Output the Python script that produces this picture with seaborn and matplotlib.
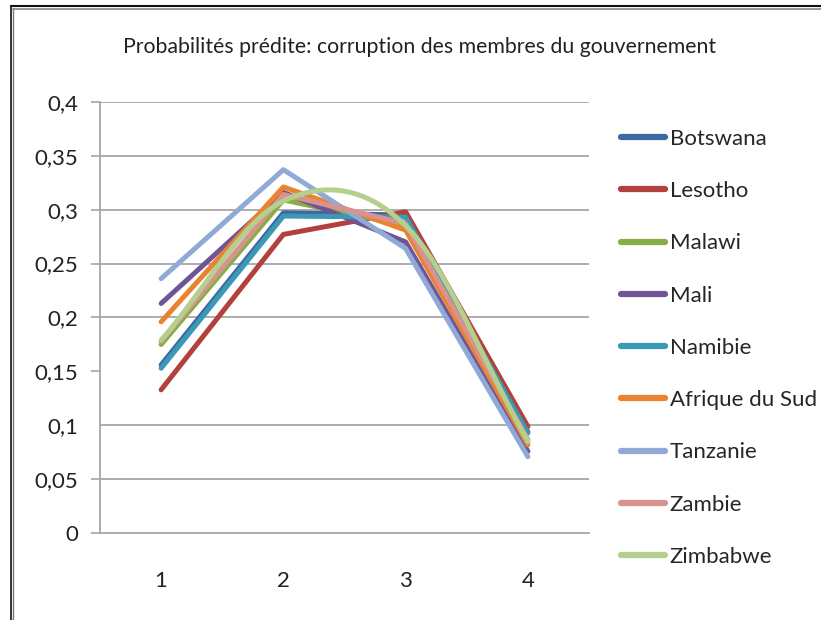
import numpy as np
import pandas as pd
import matplotlib
matplotlib.use("Agg")
import matplotlib.pyplot as plt
from matplotlib.lines import Line2D
from matplotlib.ticker import FixedLocator, FuncFormatter
import seaborn as sns

# predicted probability per category (1..4)
categories = [1, 2, 3, 4]
botswana = [0.156, 0.297, 0.295, 0.094]
lesotho = [0.133, 0.277, 0.298, 0.099]
malawi = [0.175, 0.309, 0.285, 0.085]
mali = [0.213, 0.316, 0.270, 0.076]
namibie = [0.153, 0.294, 0.293, 0.093]
afrique_du_sud = [0.196, 0.321, 0.281, 0.082]
tanzanie = [0.236, 0.337, 0.264, 0.071]
zambie = [0.178, 0.314, 0.287, 0.087]
zimbabwe = [0.179, 0.308, 0.285, 0.085]

countries = ["Botswana", "Lesotho", "Malawi", "Mali", "Namibie",
             "Afrique du Sud", "Tanzanie", "Zambie", "Zimbabwe"]
series = [botswana, lesotho, malawi, mali, namibie,
          afrique_du_sud, tanzanie, zambie, zimbabwe]
colors = ["#3D68A5", "#B2403D", "#88AD45", "#6F5595", "#3A9AB5",
          "#EB822F", "#8FAAD7", "#D89391", "#B4CF8E"]
palette = dict(zip(countries, colors))

y_ticks = [0, 0.05, 0.1, 0.15, 0.2, 0.25, 0.3, 0.35, 0.4]

rows = []
for name, vals in zip(countries, series):
    for i, v in enumerate(vals):
        rows.append({"pos": i, "country": name, "prob": v})
df = pd.DataFrame(rows)


def catmull_rom(xs, ys, n=40):
    # Excel-style smoothed line drawn through the data points
    xs = np.asarray(xs, float)
    ys = np.asarray(ys, float)
    px = np.concatenate([[2 * xs[0] - xs[1]], xs, [2 * xs[-1] - xs[-2]]])
    py = np.concatenate([[2 * ys[0] - ys[1]], ys, [2 * ys[-1] - ys[-2]]])
    ox, oy = [], []
    for i in range(1, len(px) - 2):
        t = np.linspace(0, 1, n)
        m0 = (py[i + 1] - py[i - 1]) / 2
        m1 = (py[i + 2] - py[i]) / 2
        h00 = 2 * t**3 - 3 * t**2 + 1
        h10 = t**3 - 2 * t**2 + t
        h01 = -2 * t**3 + 3 * t**2
        h11 = t**3 - t**2
        ox.extend(px[i] + t * (px[i + 1] - px[i]))
        oy.extend(h00 * py[i] + h10 * m0 + h01 * py[i + 1] + h11 * m1)
    return np.array(ox), np.array(oy)


sns.set_style("white")
plt.rcParams["font.family"] = ["Lato", "DejaVu Sans"]

fig = plt.figure(figsize=(8.21, 6.20), dpi=100)
ax = fig.add_axes([100 / 821, 1 - 533.3 / 620, 489 / 821, 431.6 / 620])

straight = df[df["country"] != "Zimbabwe"]
sns.lineplot(data=straight, x="pos", y="prob", hue="country",
             hue_order=countries[:-1], palette=palette, lw=3.6,
             legend=False, ax=ax, solid_capstyle="round")
sx, sy = catmull_rom(range(len(zimbabwe)), zimbabwe)
ax.plot(sx, sy, color=palette["Zimbabwe"], lw=3.6, solid_capstyle="round")

ax.set_xlim(-0.5, 3.5)
ax.set_ylim(0, 0.4)
ax.set_xlabel("")
ax.set_ylabel("")

grid_col = "#A6A6A6"
for t in y_ticks:
    if t in (0, 0.15):
        continue
    ax.axhline(t, color=grid_col, lw=1.3, zorder=0)

ax.yaxis.set_major_locator(FixedLocator(y_ticks))
ax.yaxis.set_major_formatter(FuncFormatter(lambda v, p: f"{v:g}".replace(".", ",")))
ax.xaxis.set_major_locator(FixedLocator([0, 1, 2, 3]))
ax.set_xticklabels([str(c) for c in categories])
ax.xaxis.set_minor_locator(FixedLocator([-0.5, 0.5, 1.5, 2.5, 3.5]))
ax.tick_params(axis="x", which="major", length=0, pad=27, labelsize=16, colors="#222222")
ax.tick_params(axis="x", which="minor", length=6.5, width=1.2, color=grid_col, direction="out")
ax.tick_params(axis="y", length=6.5, width=1.2, color=grid_col, pad=9,
               labelsize=16, labelcolor="#222222", left=True, direction="out")
# hide the missing 0,15 tick like the original
for tick in ax.yaxis.get_major_ticks():
    if abs(tick.get_loc() - 0.15) < 1e-9:
        tick.tick1line.set_visible(False)

for s in ["top", "right"]:
    ax.spines[s].set_visible(False)
for s in ["left", "bottom"]:
    ax.spines[s].set_color(grid_col)
    ax.spines[s].set_linewidth(1.3)

fig.text(0.511, 1 - 47 / 620, "Probabilités prédite: corruption des membres du gouvernement",
         ha="center", va="center", fontsize=15.3, color="#222222")

handles = [Line2D([0], [0], color=c, lw=4.5, solid_capstyle="round") for c in colors]
fig.legend(handles, countries, loc="upper left", bbox_to_anchor=(621 / 821, 1 - 129 / 620),
           frameon=False, fontsize=16, handlelength=2.0, handletextpad=0.2,
           labelspacing=1.45, borderaxespad=0, borderpad=0)

# frame around the chart area
fig.add_artist(Line2D([11 / 821, 11 / 821], [0, 1 - 6 / 620], transform=fig.transFigure,
                      color="#111111", lw=1.2))
fig.add_artist(Line2D([13 / 821, 13 / 821], [0, 1 - 8 / 620], transform=fig.transFigure,
                      color="#777777", lw=1.0))
fig.add_artist(Line2D([11 / 821, 1], [1 - 6 / 620, 1 - 6 / 620], transform=fig.transFigure,
                      color="#111111", lw=1.5))
fig.add_artist(Line2D([13 / 821, 1], [1 - 8.5 / 620, 1 - 8.5 / 620], transform=fig.transFigure,
                      color="#888888", lw=1.2))

fig.savefig("out.png", dpi=100)
